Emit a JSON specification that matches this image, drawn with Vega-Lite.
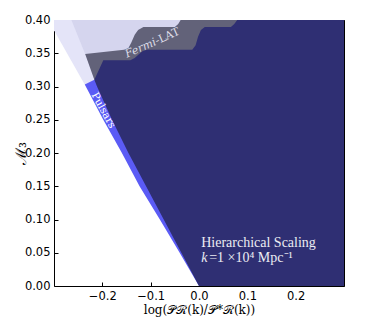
{
  "$schema": "https://vega.github.io/schema/vega-lite/v6.json",
  "width": 290,
  "height": 266,
  "autosize": {"type": "none"},
  "padding": {"left": 54, "top": 20, "right": 22, "bottom": 43},
  "background": "white",
  "config": {
    "view": {"stroke": "black", "strokeWidth": 1},
    "axis": {"labelFont": "DejaVu Sans", "labelFontSize": 11.5, "labelColor": "black", "tickColor": "black", "tickWidth": 1, "domain": false, "grid": false, "titleFont": "DejaVu Serif", "titleFontWeight": "normal", "titleColor": "black"}
  },
  "datasets": {
    "lightP": [
      {"y": 0.29, "x": -0.2262},
      {"y": 0.3846, "x": -0.3},
      {"y": 0.4, "x": -0.3}
    ],
    "lavB": [
      {"y": 0.30, "x": -0.211},
      {"y": 0.31, "x": -0.2165},
      {"y": 0.3488, "x": -0.2355},
      {"y": 0.375, "x": -0.25},
      {"y": 0.40, "x": -0.264}
    ],
    "fermi": [
      {"y": 0.31, "x": -0.2165},
      {"y": 0.3488, "x": -0.2355},
      {"y": 0.3553, "x": -0.155},
      {"y": 0.358, "x": -0.146},
      {"y": 0.366, "x": -0.14},
      {"y": 0.378, "x": -0.133},
      {"y": 0.385, "x": -0.126},
      {"y": 0.3895, "x": -0.115},
      {"y": 0.3896, "x": -0.05},
      {"y": 0.394, "x": -0.043},
      {"y": 0.40, "x": -0.038}
    ],
    "pulsars": [
      {"y": 0.0, "x": 0.0},
      {"y": 0.05, "x": -0.040},
      {"y": 0.10, "x": -0.081},
      {"y": 0.15, "x": -0.123},
      {"y": 0.20, "x": -0.1595},
      {"y": 0.25, "x": -0.198},
      {"y": 0.303, "x": -0.2363},
      {"y": 0.31, "x": -0.2165}
    ],
    "navy": [
      {"y": 0.0, "x": 0.0},
      {"y": 0.05, "x": -0.0365},
      {"y": 0.10, "x": -0.073},
      {"y": 0.15, "x": -0.1095},
      {"y": 0.20, "x": -0.146},
      {"y": 0.25, "x": -0.18},
      {"y": 0.30, "x": -0.211},
      {"y": 0.31, "x": -0.2165},
      {"y": 0.3395, "x": -0.198},
      {"y": 0.3396, "x": -0.142},
      {"y": 0.343, "x": -0.133},
      {"y": 0.348, "x": -0.125},
      {"y": 0.353, "x": -0.117},
      {"y": 0.3553, "x": -0.108},
      {"y": 0.3554, "x": -0.014},
      {"y": 0.362, "x": -0.007},
      {"y": 0.375, "x": -0.002},
      {"y": 0.385, "x": 0.004},
      {"y": 0.3895, "x": 0.012},
      {"y": 0.3896, "x": 0.066},
      {"y": 0.394, "x": 0.073},
      {"y": 0.40, "x": 0.079}
    ]
  },
  "layer": [
    {
      "data": {"name": "lightP"},
      "mark": {"type": "area", "orient": "horizontal", "color": "#e4e4f8", "clip": true},
      "encoding": {
        "y": {"field": "y", "type": "quantitative", "scale": {"domain": [0, 0.4], "nice": false, "zero": false},
              "axis": {"orient": "right", "labels": false, "title": null, "values": [0, 0.05, 0.1, 0.15, 0.2, 0.25, 0.3, 0.35, 0.4], "tickSize": -4}},
        "x": {"field": "x", "type": "quantitative", "stack": null, "scale": {"domain": [-0.3, 0.3], "nice": false, "zero": false},
              "axis": {"orient": "top", "labels": false, "title": null, "values": [-0.2, -0.1, 0, 0.1, 0.2], "tickSize": -4}},
        "x2": {"datum": 0.3}
      }
    },
    {
      "data": {"name": "lavB"},
      "mark": {"type": "area", "orient": "horizontal", "color": "#d5d5ee", "clip": true},
      "encoding": {
        "y": {"field": "y", "type": "quantitative", "axis": null},
        "x": {"field": "x", "type": "quantitative", "stack": null, "axis": null},
        "x2": {"datum": 0.3}
      }
    },
    {
      "data": {"name": "fermi"},
      "mark": {"type": "area", "orient": "horizontal", "color": "#626279", "clip": true},
      "encoding": {
        "y": {"field": "y", "type": "quantitative", "axis": null},
        "x": {"field": "x", "type": "quantitative", "stack": null, "axis": null},
        "x2": {"datum": 0.3}
      }
    },
    {
      "data": {"name": "pulsars"},
      "mark": {"type": "area", "orient": "horizontal", "color": "#5b5bf5", "clip": true},
      "encoding": {
        "y": {"field": "y", "type": "quantitative", "axis": null},
        "x": {"field": "x", "type": "quantitative", "stack": null, "axis": null},
        "x2": {"datum": 0.3}
      }
    },
    {
      "data": {"name": "navy"},
      "mark": {"type": "area", "orient": "horizontal", "color": "#2f2f73", "clip": true},
      "encoding": {
        "y": {"field": "y", "type": "quantitative",
              "axis": {"orient": "left", "values": [0, 0.05, 0.1, 0.15, 0.2, 0.25, 0.3, 0.35, 0.4], "format": ".2f", "tickSize": -4, "labelPadding": 8, "title": "ℳ₃", "titleFontSize": 15, "titlePadding": -4}},
        "x": {"field": "x", "type": "quantitative", "stack": null,
              "axis": {"orient": "bottom", "values": [-0.2, -0.1, 0, 0.1, 0.2], "format": ".1f", "tickSize": -4, "labelPadding": 8, "title": "log(𝒫ℛ(k)/𝒫*ℛ(k))", "titleFontSize": 12, "titlePadding": 3}},
        "x2": {"datum": 0.3}
      }
    },
    {
      "data": {"values": [{"x": -0.0894, "y": 0.3672, "t": "Fermi"}]},
      "mark": {"type": "text", "font": "DejaVu Serif", "fontStyle": "italic", "fontSize": 11, "color": "#dddde8", "angle": 336, "align": "right", "baseline": "middle"},
      "encoding": {
        "x": {"field": "x", "type": "quantitative", "axis": null},
        "y": {"field": "y", "type": "quantitative", "axis": null},
        "text": {"field": "t"}
      }
    },
    {
      "data": {"values": [{"x": -0.0894, "y": 0.3672, "t": "-LAT"}]},
      "mark": {"type": "text", "font": "DejaVu Serif", "fontSize": 11, "color": "#dddde8", "angle": 336, "align": "left", "baseline": "middle"},
      "encoding": {
        "x": {"field": "x", "type": "quantitative", "axis": null},
        "y": {"field": "y", "type": "quantitative", "axis": null},
        "text": {"field": "t"}
      }
    },
    {
      "data": {"values": [{"x": -0.198, "y": 0.264, "t": "Pulsars"}]},
      "mark": {"type": "text", "font": "DejaVu Serif", "fontSize": 10.5, "color": "#ffffff", "angle": 61, "align": "center", "baseline": "middle"},
      "encoding": {
        "x": {"field": "x", "type": "quantitative", "axis": null},
        "y": {"field": "y", "type": "quantitative", "axis": null},
        "text": {"field": "t"}
      }
    },
    {
      "data": {"values": [{"x": 0.0045, "y": 0.059, "t": "Hierarchical Scaling"}]},
      "mark": {"type": "text", "font": "Liberation Serif", "fontSize": 14, "color": "#ececf2", "align": "left", "baseline": "alphabetic"},
      "encoding": {
        "x": {"field": "x", "type": "quantitative", "axis": null},
        "y": {"field": "y", "type": "quantitative", "axis": null},
        "text": {"field": "t"}
      }
    },
    {
      "data": {"values": [{"x": 0.0045, "y": 0.0365, "t": "k"}]},
      "mark": {"type": "text", "font": "Liberation Serif", "fontStyle": "italic", "fontSize": 14, "color": "#ececf2", "align": "left", "baseline": "alphabetic"},
      "encoding": {
        "x": {"field": "x", "type": "quantitative", "axis": null},
        "y": {"field": "y", "type": "quantitative", "axis": null},
        "text": {"field": "t"}
      }
    },
    {
      "data": {"values": [{"x": 0.0045, "y": 0.0365, "t": "=1 ×10⁴ Mpc⁻¹"}]},
      "mark": {"type": "text", "font": "Liberation Serif", "fontSize": 14, "color": "#ececf2", "align": "left", "baseline": "alphabetic", "dx": 8},
      "encoding": {
        "x": {"field": "x", "type": "quantitative", "axis": null},
        "y": {"field": "y", "type": "quantitative", "axis": null},
        "text": {"field": "t"}
      }
    }
  ],
  "resolve": {"axis": {"x": "independent", "y": "independent"}}
}
